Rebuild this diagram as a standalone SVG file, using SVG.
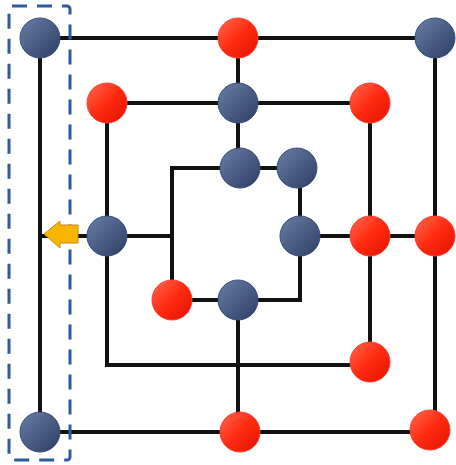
<svg xmlns="http://www.w3.org/2000/svg" width="456" height="465" viewBox="0 0 456 465">
<defs>
<linearGradient id="gb" x1="0" y1="0" x2="1" y2="1">
<stop offset="0" stop-color="#6a7ea6"/>
<stop offset="1" stop-color="#2c3d63"/>
</linearGradient>
<linearGradient id="gr" x1="0" y1="0" x2="1" y2="1">
<stop offset="0" stop-color="#ff6a50"/>
<stop offset="0.5" stop-color="#ff2a10"/>
<stop offset="1" stop-color="#e01000"/>
</linearGradient>
<style>
.ln{fill:none;stroke:#111;stroke-width:4}
.b{fill:url(#gb);stroke:#3a5080;stroke-width:1}
.r{fill:url(#gr);stroke:#ff4030;stroke-width:1}
.sel{fill:none;stroke:#2f5a9e;stroke-width:3;stroke-dasharray:15 10}
</style>
</defs>
<g id="connectors">
<path class="ln" d="M40,38 H435 V432 H40 Z"/>
<path class="ln" d="M107,103 H370 V365 H107 Z"/>
<path class="ln" d="M172,168 H300 V300 H172 Z"/>
<path class="ln" d="M238,38 V168"/>
<path class="ln" d="M40,236 H172"/>
<path class="ln" d="M300,236 H435"/>
<path class="ln" d="M238,300 V432"/>
</g>
<g id="selection"><rect class="sel" x="9" y="6" width="61" height="454" rx="3"/></g>
<g id="n1"><circle class="b" cx="40" cy="38" r="20"/></g>
<g id="n2"><circle class="r" cx="238" cy="38" r="20"/></g>
<g id="n3"><circle class="b" cx="435" cy="38" r="20"/></g>
<g id="n4"><circle class="r" cx="435" cy="236" r="20"/></g>
<g id="n5"><circle class="r" cx="430" cy="430" r="20"/></g>
<g id="n6"><circle class="r" cx="240" cy="432" r="20"/></g>
<g id="n7"><circle class="b" cx="40" cy="432" r="20"/></g>
<g id="n8"><circle class="r" cx="107" cy="103" r="20"/></g>
<g id="n9"><circle class="b" cx="238" cy="103" r="20"/></g>
<g id="n10"><circle class="r" cx="370" cy="103" r="20"/></g>
<g id="n11"><circle class="r" cx="370" cy="236" r="20"/></g>
<g id="n12"><circle class="r" cx="370" cy="362" r="20"/></g>
<g id="n13"><circle class="b" cx="107" cy="236" r="20"/></g>
<g id="n14"><circle class="b" cx="240" cy="168" r="20"/></g>
<g id="n15"><circle class="b" cx="297" cy="168" r="20"/></g>
<g id="n16"><circle class="b" cx="300" cy="236" r="20"/></g>
<g id="n17"><circle class="b" cx="238" cy="300" r="20"/></g>
<g id="n18"><circle class="r" cx="172" cy="300" r="20"/></g>
<g id="arrow"><path d="M44,234 L60,221 V225 H78 V243 H60 V248 Z" fill="#f7b500" stroke="#c98a00" stroke-width="1"/></g>
</svg>
